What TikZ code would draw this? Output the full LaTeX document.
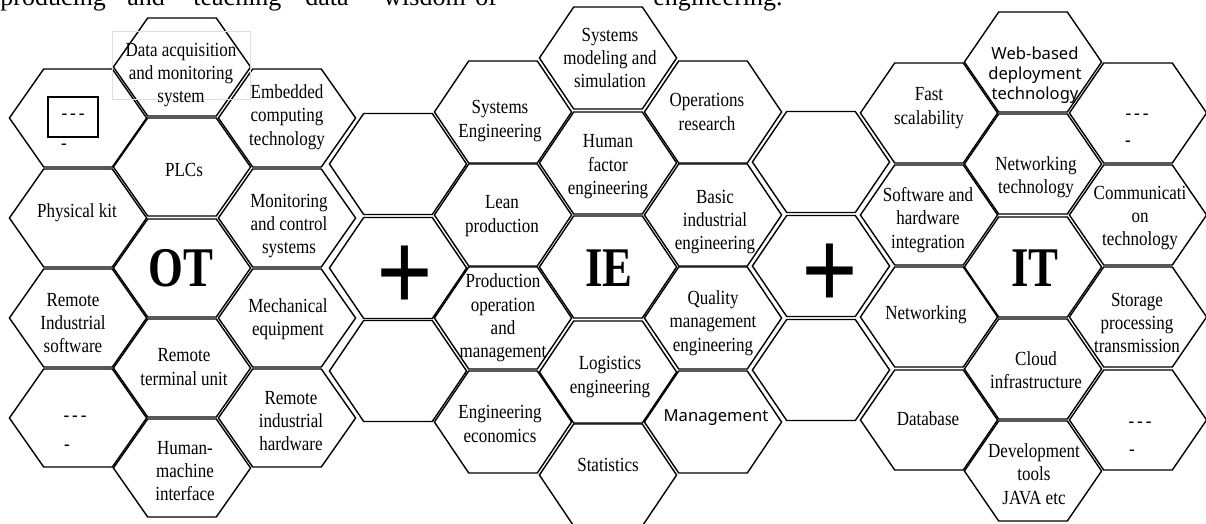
\documentclass[tikz,border=0pt]{standalone}
\usepackage{fontspec}
\usepackage{graphicx}
\setmainfont{Liberation Serif}[FakeStretch=0.85]
\newfontfamily\bodyfont{Liberation Serif}
\newfontfamily\bigfont{Liberation Serif}[FakeStretch=0.8]
\newfontfamily\uisans{Noto Sans}
\usepackage{tikz}
\tikzstyle{hexline} = [draw=black, line width=0.7pt, line join=miter]
\tikzstyle{cell} = [align=center, inner sep=0pt, font=\fontsize{10}{11.7}\selectfont]
\tikzstyle{uicell} = [align=center, inner sep=0pt, font=\uisans\fontsize{8.3}{10}\selectfont]
\tikzstyle{bigletters} = [inner sep=0pt, font=\bigfont\bfseries\fontsize{28}{28}\selectfont]
\tikzstyle{plussign} = [inner sep=0pt, font=\bodyfont\bfseries\fontsize{58}{58}\selectfont]
\tikzstyle{dashcell} = [inner sep=0pt, font=\fontsize{10}{12}\selectfont]
\tikzstyle{bodyword} = [anchor=base west, inner sep=0pt, font=\bodyfont\fontsize{13}{15}\selectfont]

% one flat-topped cell: centre x, centre y, half height
\newcommand{\hexcell}[3]{%
  \draw[hexline, shift={(#1,#2)}] (-68.6,0) -- (-34.3,#3) -- (34.3,#3) -- (68.6,0) -- (34.3,-#3) -- (-34.3,-#3) -- cycle;}
\newcommand{\dashes}{\mbox{-}\kern1.5pt\mbox{-}\kern1.5pt\mbox{-}}

\begin{document}
\begin{tikzpicture}[x=0.5pt, y=-0.5pt]
\useasboundingbox (0,0) rectangle (1206,524);
\clip (0,0) rectangle (1206,524);

% last line of the paragraph above
\foreach \w/\x [count=\i] in {producing/0, and/127, teaching/193, data/305, wisdom/383, of/475, engineering./653}
  \node[bodyword] (word\i) at (\x,6) {\w};

% honeycomb
\foreach \y in {118,218,318,418} {\hexcell{78}{\y}{49} \hexcell{287}{\y}{49}}
\foreach \y in {67,167,268,368,468} {\hexcell{182}{\y}{49}}
\foreach \y in {164,268,371} {\hexcell{398}{\y}{50.5}}
\foreach \y in {112,215,318,422} {\hexcell{503}{\y}{51} \hexcell{713}{\y}{51}}
\foreach \y in {58,163,267,372,475} {\hexcell{608}{\y}{51}}
\foreach \y in {162,266,370} {\hexcell{821}{\y}{50.5}}
\foreach \y in {113,215,317,420} {\hexcell{929}{\y}{50} \hexcell{1138}{\y}{50}}
\foreach \y in {62,164,267,369,471} {\hexcell{1033}{\y}{50}}

% OT
\node[dashcell, draw, line width=0.6pt, minimum width=25pt, minimum height=20pt] (otdash) at (73,117) {\dashes};
\node[dashcell] (otdashb) at (64,147) {-};
\node[cell] (kit) at (77,213) {Physical kit};
\node[cell] (rsw) at (73,323) {Remote\\Industrial\\software};
\node[dashcell] (otdash2) at (75,419) {\dashes};
\node[dashcell] (otdash2b) at (67,448) {-};
\draw[gray!25, line width=0.5pt] (112,32) rectangle (250,100);
\node[cell] (daq) at (181,75) {Data acquisition\\and monitoring\\system};
\node[cell] (plc) at (184,170) {PLCs};
\node[bigletters] (ot) at (181,268) {OT};
\node[cell] (rtu) at (184,367) {Remote\\terminal unit};
\node[cell] (hmi) at (185,471) {Human-\\machine\\interface};
\node[cell] (emb) at (287,117) {Embedded\\computing\\technology};
\node[cell] (mcs) at (289,226) {Monitoring\\and control\\systems};
\node[cell] (mech) at (288,319) {Mechanical\\equipment};
\node[cell] (rhw) at (291,421) {Remote\\industrial\\hardware};

\node[plussign] (plusa) at (405,279) {\scalebox{0.86}[1]{+}};

% IE
\node[cell] (syse) at (500,121) {Systems\\Engineering};
\node[cell] (lean) at (502,216) {Lean\\production};
\node[cell] (prod) at (503,318) {Production\\operation\\and\\management};
\node[cell] (econ) at (500,424) {Engineering\\economics};
\node[cell] (smod) at (610,58) {Systems\\modeling and\\simulation};
\node[cell] (hfe) at (608,167) {Human\\factor\\engineering};
\node[bigletters] (ie) at (609,268) {IE};
\node[cell] (logi) at (610,377) {Logistics\\engineering};
\node[cell] (stat) at (608,465) {Statistics};
\node[cell] (opr) at (707,112) {Operations\\research};
\node[cell] (bie) at (715,222) {Basic\\industrial\\engineering};
\node[cell] (qme) at (713,323) {Quality\\management\\engineering};
\node[uicell] (mgmt) at (716,418) {Management};

\node[plussign] (plusb) at (830,277) {\scalebox{0.86}[1]{+}};

% IT
\node[cell] (fast) at (929,108) {Fast\\scalability};
\node[uicell] (web) at (1035,75) {Web-based\\deployment\\technology};
\node[dashcell] (itdash) at (1137,117) {\dashes};
\node[dashcell] (itdashb) at (1128,144) {-};
\node[cell] (nett) at (1036,177) {Networking\\technology};
\node[cell] (swhw) at (928,220) {Software and\\hardware\\integration};
\node[cell] (comm) at (1140,218) {Communicati\\on\\technology};
\node[bigletters] (it) at (1035,268) {IT};
\node[cell] (netw) at (926,315) {Networking};
\node[cell] (stor) at (1137,323) {Storage\\processing\\transmission};
\node[cell] (cloud) at (1036,370) {Cloud\\infrastructure};
\node[cell] (db) at (928,419) {Database};
\node[cell] (dev) at (1034,474) {Development\\tools\\JAVA etc};
\node[dashcell] (itdash2) at (1140,425) {\dashes};
\node[dashcell] (itdash2b) at (1132,453) {-};
\end{tikzpicture}
\end{document}
